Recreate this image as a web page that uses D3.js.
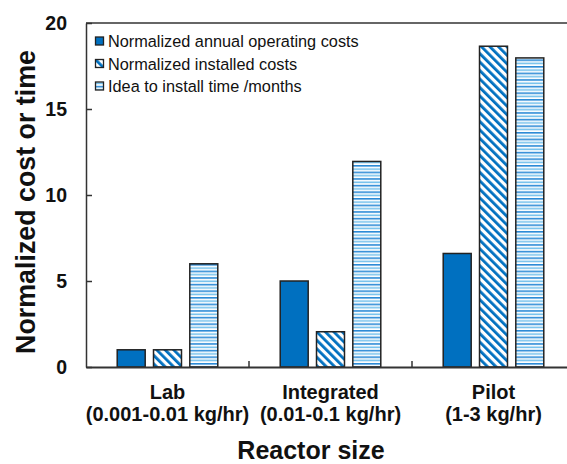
<!DOCTYPE html>
<html><head><meta charset="utf-8">
<script src="https://cdn.jsdelivr.net/npm/d3@7"></script>
<style>body{margin:0;background:#fff}svg{display:block}text{font-family:"Liberation Sans",Arial,sans-serif}</style>
</head><body>
<svg id="c" width="567" height="464"></svg>
<script>
const categories = ["Lab", "Integrated", "Pilot"];
const categoryLines = [["Lab","(0.001-0.01 kg/hr)"],["Integrated","(0.01-0.1 kg/hr)"],["Pilot","(1-3 kg/hr)"]];
const seriesNames = ["Normalized annual operating costs","Normalized installed costs","Idea to install time /months"];
const operating = [1, 5, 6.6];
const installed = [1, 2.05, 18.65];
const ideaTime = [6, 11.95, 17.97];
const yTicks = [0, 5, 10, 15, 20];

const seriesValues = [operating, installed, ideaTime];
const svg = d3.select("#c");
const L = 86, R = 575, T = 23, B = 367;

const defs = svg.append("defs");
const hatch = defs.append("pattern").attr("id","hatch").attr("patternUnits","userSpaceOnUse")
  .attr("width",6).attr("height",6).attr("patternTransform","rotate(-45)");
hatch.append("rect").attr("width",6).attr("height",6).attr("fill","#fff");
hatch.append("rect").attr("width",2.8).attr("height",6).attr("fill","#0070c0");
const hz = defs.append("pattern").attr("id","hz").attr("patternUnits","userSpaceOnUse")
  .attr("width",8).attr("height",6.6);
hz.append("rect").attr("width",8).attr("height",6.6).attr("fill","#fff");
hz.append("rect").attr("y",0).attr("width",8).attr("height",1.6).attr("fill","#2a8ad6");
hz.append("rect").attr("y",3.3).attr("width",8).attr("height",1.6).attr("fill","#72c0ec");
const fills = ["#0070c0","url(#hatch)","url(#hz)"];

const x = d3.scaleBand().domain(categories).range([L, R]);
const xi = d3.scaleBand().domain(seriesNames).range([0, x.bandwidth()]).paddingInner(0.229).paddingOuter(0.86);
const y = d3.scaleLinear().domain([0, 20]).range([B, T]);

// bars
categories.forEach((c, ci) => {
  svg.append("g").selectAll("rect").data(seriesNames).join("rect")
    .attr("x", s => x(c) + xi(s))
    .attr("width", xi.bandwidth())
    .attr("y", (s, si) => y(seriesValues[si][ci]))
    .attr("height", (s, si) => B - y(seriesValues[si][ci]))
    .attr("fill", (s, si) => fills[si])
    .attr("stroke", "#222").attr("stroke-width", 1.5);
});

// frame
svg.append("line").attr("x1",L).attr("x2",R).attr("y1",T).attr("y2",T).attr("stroke","#333").attr("stroke-width",1.5);

// y axis
const yAxis = svg.append("g").attr("transform",`translate(${L},0)`)
  .call(d3.axisLeft(y).tickValues(yTicks).tickSizeInner(-6).tickSizeOuter(0).tickPadding(19));
yAxis.select(".domain").attr("stroke","#333").attr("stroke-width",1.5);
yAxis.selectAll(".tick line").attr("stroke","#333").attr("stroke-width",1.5);
yAxis.selectAll(".tick text").attr("font-size",19.5).attr("font-weight","bold").attr("fill","#111")
  .attr("font-family","'Liberation Sans',Arial,sans-serif");

// x axis
const xb = d3.scaleOrdinal().domain(d3.range(4)).range(d3.range(4).map(i => L + i * x.step()));
const xAxis = svg.append("g").attr("transform",`translate(0,${B})`)
  .call(d3.axisBottom(x).tickSize(0).tickFormat(""));
xAxis.select(".domain").attr("stroke","#333").attr("stroke-width",2);
svg.append("g").selectAll("line").data([1,2]).join("line")
  .attr("x1", i => xb(i)).attr("x2", i => xb(i)).attr("y1", B).attr("y2", B - 6)
  .attr("stroke","#333").attr("stroke-width",1.5);

categories.forEach((c, ci) => {
  const t = svg.append("text").attr("text-anchor","middle").attr("font-weight","bold")
    .attr("font-size",20).attr("fill","#111");
  categoryLines[ci].forEach((ln, li) => {
    t.append("tspan").attr("x", x(c) + x.bandwidth()/2).attr("y", 399 + li * 22).text(ln);
  });
});

// titles
svg.append("text").attr("x",311).attr("y",459).attr("text-anchor","middle")
  .attr("font-size",25).attr("font-weight","bold").attr("fill","#111").text("Reactor size");
svg.append("text").attr("transform","translate(35,202) rotate(-90)").attr("text-anchor","middle")
  .attr("font-size",26.8).attr("font-weight","bold").attr("fill","#111").text("Normalized cost or time");

// legend
const lg = svg.append("g");
seriesNames.forEach((s, i) => {
  const yy = 41.5 + i * 22.5;
  lg.append("rect").attr("x",95.5).attr("y",yy-4.5).attr("width",8).attr("height",8)
    .attr("fill",fills[i]).attr("stroke","#222").attr("stroke-width",1.3);
  lg.append("text").attr("x",108).attr("y",yy+5.5).attr("font-size",16.3).attr("fill","#111").text(s);
});
</script>
</body></html>
